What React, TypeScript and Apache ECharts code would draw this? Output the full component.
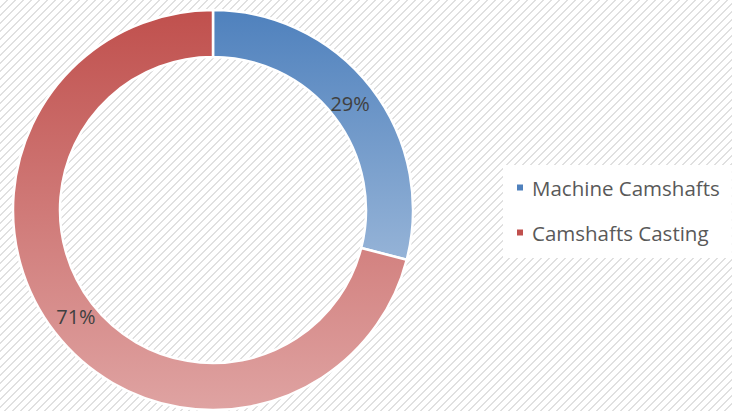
import React, { useEffect, useRef } from "react";
import * as echarts from "echarts";

const categories = ["Machine Camshafts", "Camshafts Casting"];
const values = [29, 71];
const topColors = ["#4f81bd", "#c0504d"];
const bottomColors = ["#95b3d7", "#dfa3a2"];

export default function App() {
  const ref = useRef<HTMLDivElement>(null);
  useEffect(() => {
    if (!ref.current) return;
    const chart = echarts.init(ref.current, undefined, { renderer: "svg" });
    const data = categories.map((name, i) => ({
      name,
      value: values[i],
      itemStyle: {
        color: new echarts.graphic.LinearGradient(0, 0, 0, 1, [
          { offset: 0, color: topColors[i] },
          { offset: 1, color: bottomColors[i] },
        ]),
      },
    }));
    const labelData = categories.map((name, i) => ({ name, value: values[i] }));
    chart.setOption({
      animation: false,
      backgroundColor: "transparent",
      legend: {
        orient: "vertical",
        left: 503,
        top: 165,
        backgroundColor: "#ffffff",
        padding: [12, 12, 15, 12],
        itemGap: 24,
        itemWidth: 8,
        itemHeight: 8,
        icon: "rect",
        data: categories.map((name, i) => ({
          name,
          itemStyle: { color: topColors[i] },
        })),
        textStyle: {
          fontFamily: "Open Sans",
          fontSize: 20.5,
          color: "#595959",
          padding: [0, 0, 0, 3],
        },
      },
      series: [
        {
          type: "pie",
          name: "ring",
          center: [213, 210],
          radius: [153, 200],
          startAngle: 90,
          clockwise: true,
          avoidLabelOverlap: false,
          itemStyle: { borderColor: "#ffffff", borderWidth: 2.5 },
          label: { show: false },
          labelLine: { show: false },
          emphasis: { disabled: true },
          data,
        },
        {
          type: "pie",
          name: "labels",
          center: [213, 210],
          radius: [141, 200],
          startAngle: 90,
          clockwise: true,
          silent: true,
          legendHoverLink: false,
          avoidLabelOverlap: false,
          itemStyle: { color: "rgba(0,0,0,0)", borderWidth: 0 },
          label: {
            show: true,
            position: "inside",
            formatter: "{d}%",
            fontFamily: "Open Sans",
            fontSize: 20,
            color: "#404040",
          },
          labelLine: { show: false },
          emphasis: { disabled: true },
          data: labelData,
        },
      ],
    });
    return () => chart.dispose();
  }, []);
  return (
    <div
      ref={ref}
      style={{
        position: "fixed",
        left: 0,
        top: 0,
        width: 732,
        height: 411,
        background:
          "repeating-linear-gradient(135deg, #ffffff 0px, #ffffff 4.4px, #e0e0e0 4.4px, #e0e0e0 5.66px)",
      }}
    />
  );
}
